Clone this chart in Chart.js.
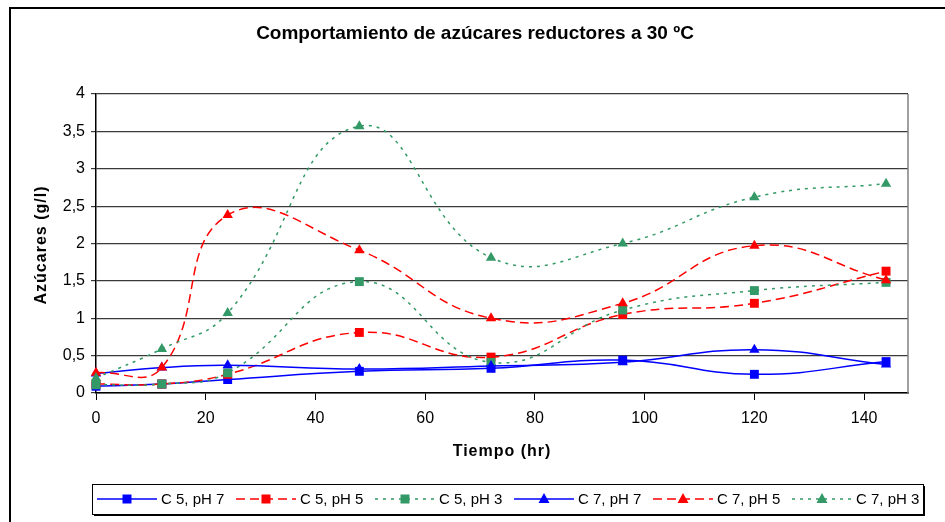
<!DOCTYPE html>
<html><head><meta charset="utf-8">
<script src="https://cdn.jsdelivr.net/npm/chart.js@4"></script>
<style>html,body{margin:0;padding:0;background:#fff}canvas{display:block}</style>
</head><body>
<canvas id="c" width="945" height="522"></canvas>
<script>
const chartTitle = "Comportamiento de azúcares reductores a 30 ºC";
const xTitle = "Tiempo (hr)";
const yTitle = "Azúcares (g/l)";
const times = [0, 12, 24, 48, 72, 96, 120, 144];
const seriesNames = ["C 5, pH 7", "C 5, pH 5", "C 5, pH 3", "C 7, pH 7", "C 7, pH 5", "C 7, pH 3"];
const c5ph7 = [0.09, 0.12, 0.18, 0.29, 0.33, 0.44, 0.25, 0.42];
const c5ph5 = [0.12, 0.12, 0.25, 0.81, 0.48, 1.05, 1.20, 1.63];
const c5ph3 = [0.11, 0.12, 0.27, 1.49, 0.41, 1.11, 1.37, 1.48];
const c7ph7 = [0.26, 0.34, 0.37, 0.32, 0.36, 0.41, 0.58, 0.38];
const c7ph5 = [0.27, 0.34, 2.38, 1.91, 1.00, 1.20, 1.97, 1.51];
const c7ph3 = [0.20, 0.59, 1.07, 3.57, 1.81, 2.00, 2.62, 2.80];
const yTicks = [0, 0.5, 1, 1.5, 2, 2.5, 3, 3.5, 4];
const xTicks = [0, 20, 40, 60, 80, 100, 120, 140];

const BLUE = "#0000FF", RED = "#FF0000", GREEN = "#339966";
const styles = [
  {c: BLUE, dash: [], m: "rect"},
  {c: RED, dash: [9, 5], m: "rect"},
  {c: GREEN, dash: [3, 5], m: "rect"},
  {c: BLUE, dash: [], m: "triangle"},
  {c: RED, dash: [9, 5], m: "triangle"},
  {c: GREEN, dash: [3, 5], m: "triangle"}
];
const allValues = [c5ph7, c5ph5, c5ph3, c7ph7, c7ph5, c7ph3];

const datasets = allValues.map((vals, i) => ({
  label: seriesNames[i],
  data: times.map((t, k) => ({x: t, y: vals[k]})),
  borderColor: styles[i].c,
  backgroundColor: styles[i].c,
  borderWidth: 1.5,
  borderDash: styles[i].dash,
  pointStyle: styles[i].m,
  pointRadius: styles[i].m === "rect" ? 6.3 : 6,
  pointBorderWidth: 0,
  pointBackgroundColor: styles[i].c,
  tension: 0.45,
  order: 5 - i,
  clip: false
}));

const FONT = "Arial, 'Liberation Sans', sans-serif";

const decor = {
  id: "decor",
  afterDraw(chart) {
    const ctx = chart.ctx;
    const a = chart.chartArea;
    ctx.save();
    // outer frame
    ctx.strokeStyle = "#000"; ctx.lineWidth = 2;
    ctx.beginPath(); ctx.moveTo(10, 523); ctx.lineTo(10, 8); ctx.lineTo(946, 8); ctx.stroke();
    // plot right border
    ctx.strokeStyle = "#808080"; ctx.lineWidth = 1.5;
    ctx.beginPath(); ctx.moveTo(a.right, a.top); ctx.lineTo(a.right, a.bottom); ctx.stroke();
    // title
    ctx.fillStyle = "#000";
    ctx.font = "bold 19px " + FONT;
    ctx.textAlign = "center"; ctx.textBaseline = "middle";
    ctx.fillText(chartTitle, 475, 34);
    // x title
    ctx.font = "bold 16px " + FONT;
    ctx.letterSpacing = "1px";
    ctx.fillText(xTitle, 502, 452);
    // y title
    ctx.save();
    ctx.translate(42, 245); ctx.rotate(-Math.PI / 2);
    ctx.fillText(yTitle, 0, 0);
    ctx.restore();
    ctx.letterSpacing = "0px";
    // legend box
    ctx.fillStyle = "#000";
    ctx.fillRect(94, 486, 831, 30);
    ctx.fillStyle = "#fff";
    ctx.fillRect(92, 484, 831, 30);
    ctx.strokeStyle = "#000"; ctx.lineWidth = 1;
    ctx.strokeRect(92.5, 484.5, 831, 30);
    ctx.font = "15px " + FONT;
    ctx.textAlign = "left"; ctx.textBaseline = "middle";
    chart.data.datasets.forEach((ds, i) => {
      const x0 = 97 + i * 139, y = 499;
      ctx.save();
      ctx.strokeStyle = ds.borderColor; ctx.lineWidth = 1.5;
      ctx.setLineDash(ds.borderDash);
      ctx.beginPath(); ctx.moveTo(x0, y); ctx.lineTo(x0 + 60, y); ctx.stroke();
      ctx.restore();
      ctx.fillStyle = ds.borderColor;
      const cx = x0 + 30;
      if (ds.pointStyle === "rect") {
        ctx.fillRect(cx - 4.5, y - 4.5, 9, 9);
      } else {
        ctx.beginPath(); ctx.moveTo(cx, y - 6); ctx.lineTo(cx + 5.5, y + 4); ctx.lineTo(cx - 5.5, y + 4); ctx.closePath(); ctx.fill();
      }
      ctx.fillStyle = "#000";
      ctx.fillText(ds.label, x0 + 64, y + 1);
    });
    ctx.restore();
  }
};

new Chart(document.getElementById("c"), {
  type: "line",
  data: {datasets},
  plugins: [decor],
  options: {
    responsive: false,
    animation: false,
    devicePixelRatio: 1,
    layout: {padding: {top: 94, right: 37, left: 0, bottom: 0}},
    plugins: {legend: {display: false}, title: {display: false}, tooltip: {enabled: false}},
    scales: {
      x: {
        type: "linear", min: 0, max: 148,
        afterFit(s) { s.height = 129; },
        afterBuildTicks(s) { s.ticks = xTicks.map(v => ({value: v})); },
        ticks: {color: "#000", font: {family: FONT, size: 16}, padding: 9, maxRotation: 0, autoSkip: false,
          callback: v => String(v)},
        grid: {drawOnChartArea: false, drawTicks: true, tickLength: 7, color: "#000"},
        border: {color: "#000", width: 1.5}
      },
      y: {
        type: "linear", min: 0, max: 4,
        afterFit(s) { s.width = 96; },
        afterBuildTicks(s) { s.ticks = yTicks.map(v => ({value: v})); },
        ticks: {color: "#000", font: {family: FONT, size: 16}, padding: 6,
          callback: v => String(v).replace(".", ",")},
        grid: {color: "#3a3a3a", lineWidth: 1.2, tickLength: 5},
        border: {color: "#000", width: 1.5}
      }
    }
  }
});
</script>
</body></html>
